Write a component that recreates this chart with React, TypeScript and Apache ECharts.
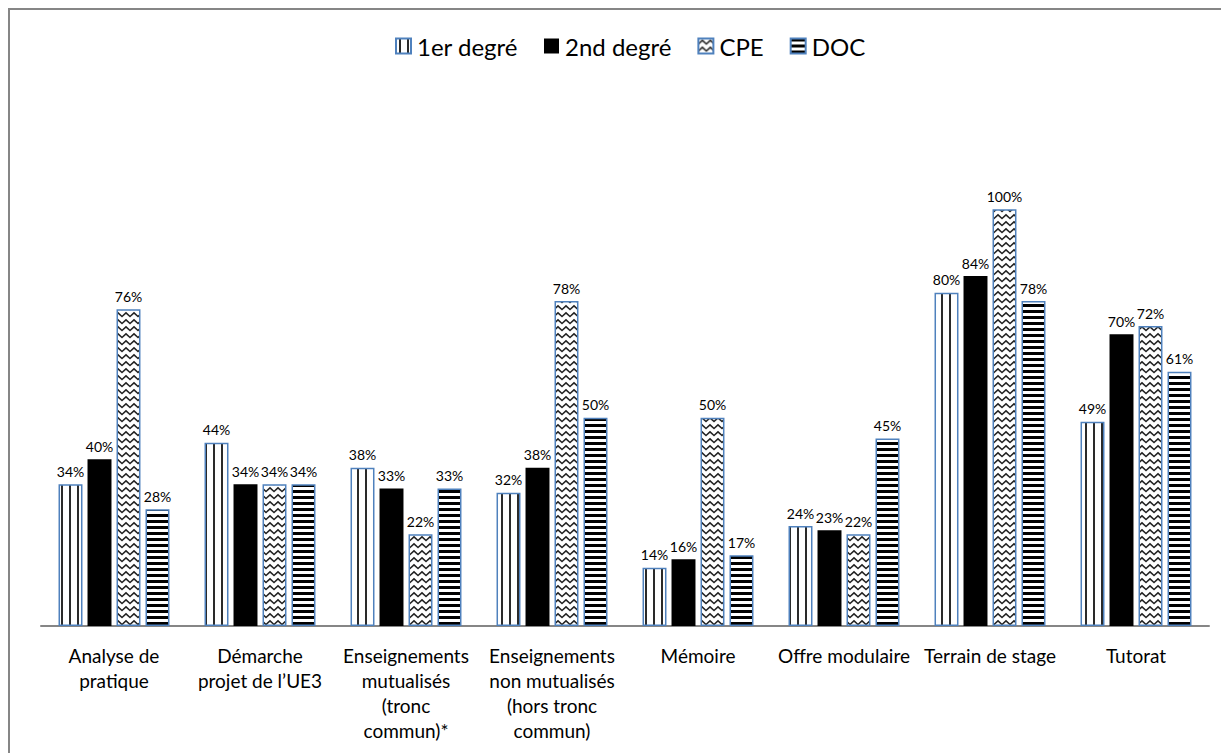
import React, { useEffect, useRef } from "react";
import * as echarts from "echarts";

const categories = [
  "Analyse de\npratique",
  "Démarche\nprojet de l’UE3",
  "Enseignements\nmutualisés\n(tronc\ncommun)*",
  "Enseignements\nnon mutualisés\n(hors tronc\ncommun)",
  "Mémoire",
  "Offre modulaire",
  "Terrain de stage",
  "Tutorat",
];
const seriesNames = ["1er degré", "2nd degré", "CPE", "DOC"];
const premierDegre = [34, 44, 38, 32, 14, 24, 80, 49];
const secondDegre = [40, 34, 33, 38, 16, 23, 84, 70];
const cpe = [76, 34, 22, 78, 50, 22, 100, 72];
const doc = [28, 34, 33, 50, 17, 45, 78, 61];

const FONT = "Lato, 'Open Sans', sans-serif";

function makePattern(kind: string) {
  const c = document.createElement("canvas");
  let w = 8, h = 8;
  if (kind === "vert") { w = 8; h = 8; }
  if (kind === "wave") { w = 8; h = 7; }
  if (kind === "horiz") { w = 8; h = 6; }
  c.width = w; c.height = h;
  const ctx = c.getContext("2d")!;
  ctx.fillStyle = "#ffffff";
  ctx.fillRect(0, 0, w, h);
  if (kind === "vert") {
    ctx.fillStyle = "#2a2a2a";
    ctx.fillRect(3, 0, 2, h);
  } else if (kind === "horiz") {
    ctx.fillStyle = "#000000";
    ctx.fillRect(0, 0, w, 3);
  } else if (kind === "wave") {
    ctx.strokeStyle = "#222222";
    ctx.lineWidth = 1.6;
    ctx.beginPath();
    ctx.moveTo(-1, 6.2);
    ctx.lineTo(0, 5.5);
    ctx.lineTo(4, 1.8);
    ctx.lineTo(8, 5.5);
    ctx.lineTo(9, 6.2);
    ctx.stroke();
  }
  return { image: c.toDataURL(), repeat: "repeat", imageWidth: w, imageHeight: h };
}

export default function App() {
  const ref = useRef<HTMLDivElement>(null);
  useEffect(() => {
    if (!ref.current) return;
    const chart = echarts.init(ref.current, null, { renderer: "svg" });
    const blue = "#4f81bd";
    const styles: any[] = [
      { color: makePattern("vert"), borderColor: blue, borderWidth: 1.5 },
      { color: "#000000", borderWidth: 0 },
      { color: makePattern("wave"), borderColor: blue, borderWidth: 1.5 },
      { color: makePattern("horiz"), borderColor: blue, borderWidth: 1.5 },
    ];
    const datas = [premierDegre, secondDegre, cpe, doc];
    chart.setOption({
      animation: false,
      textStyle: { fontFamily: FONT },
      legend: {
        top: 24,
        left: 385,
        padding: 0,
        itemWidth: 15,
        itemHeight: 15,
        itemGap: 26,
        icon: "rect",
        textStyle: { fontSize: 24, color: "#000", fontFamily: FONT, padding: [0, 0, 0, 1] },
        data: seriesNames,
      },
      grid: { left: 31, right: 20, top: 116, bottom: 127, containLabel: false },
      xAxis: {
        type: "category",
        data: categories,
        axisTick: { show: false },
        axisLine: { lineStyle: { color: "#868686", width: 2 } },
        axisLabel: {
          interval: 0,
          fontSize: 19,
          lineHeight: 25,
          color: "#000",
          margin: 17,
          fontFamily: FONT,
        },
      },
      yAxis: { type: "value", min: 0, max: 120, show: false, splitLine: { show: false } },
      series: seriesNames.map((name, i) => ({
        name,
        type: "bar",
        data: datas[i],
        barGap: "21%",
        barCategoryGap: "24%",
        itemStyle: styles[i],
        label: {
          show: true,
          position: "top",
          distance: 6,
          fontSize: 14,
          color: "#000",
          fontFamily: FONT,
          formatter: (p: any) => `${p.value}%`,
        },
      })),
    });
    return () => chart.dispose();
  }, []);
  return (
    <div
      style={{
        width: 1221,
        height: 745,
        boxSizing: "border-box",
        borderTop: "2px solid #868686",
        borderLeft: "2px solid #868686",
        background: "#fff",
        overflow: "hidden",
      }}
    >
      <div ref={ref} style={{ width: 1219, height: 743 }} />
    </div>
  );
}
